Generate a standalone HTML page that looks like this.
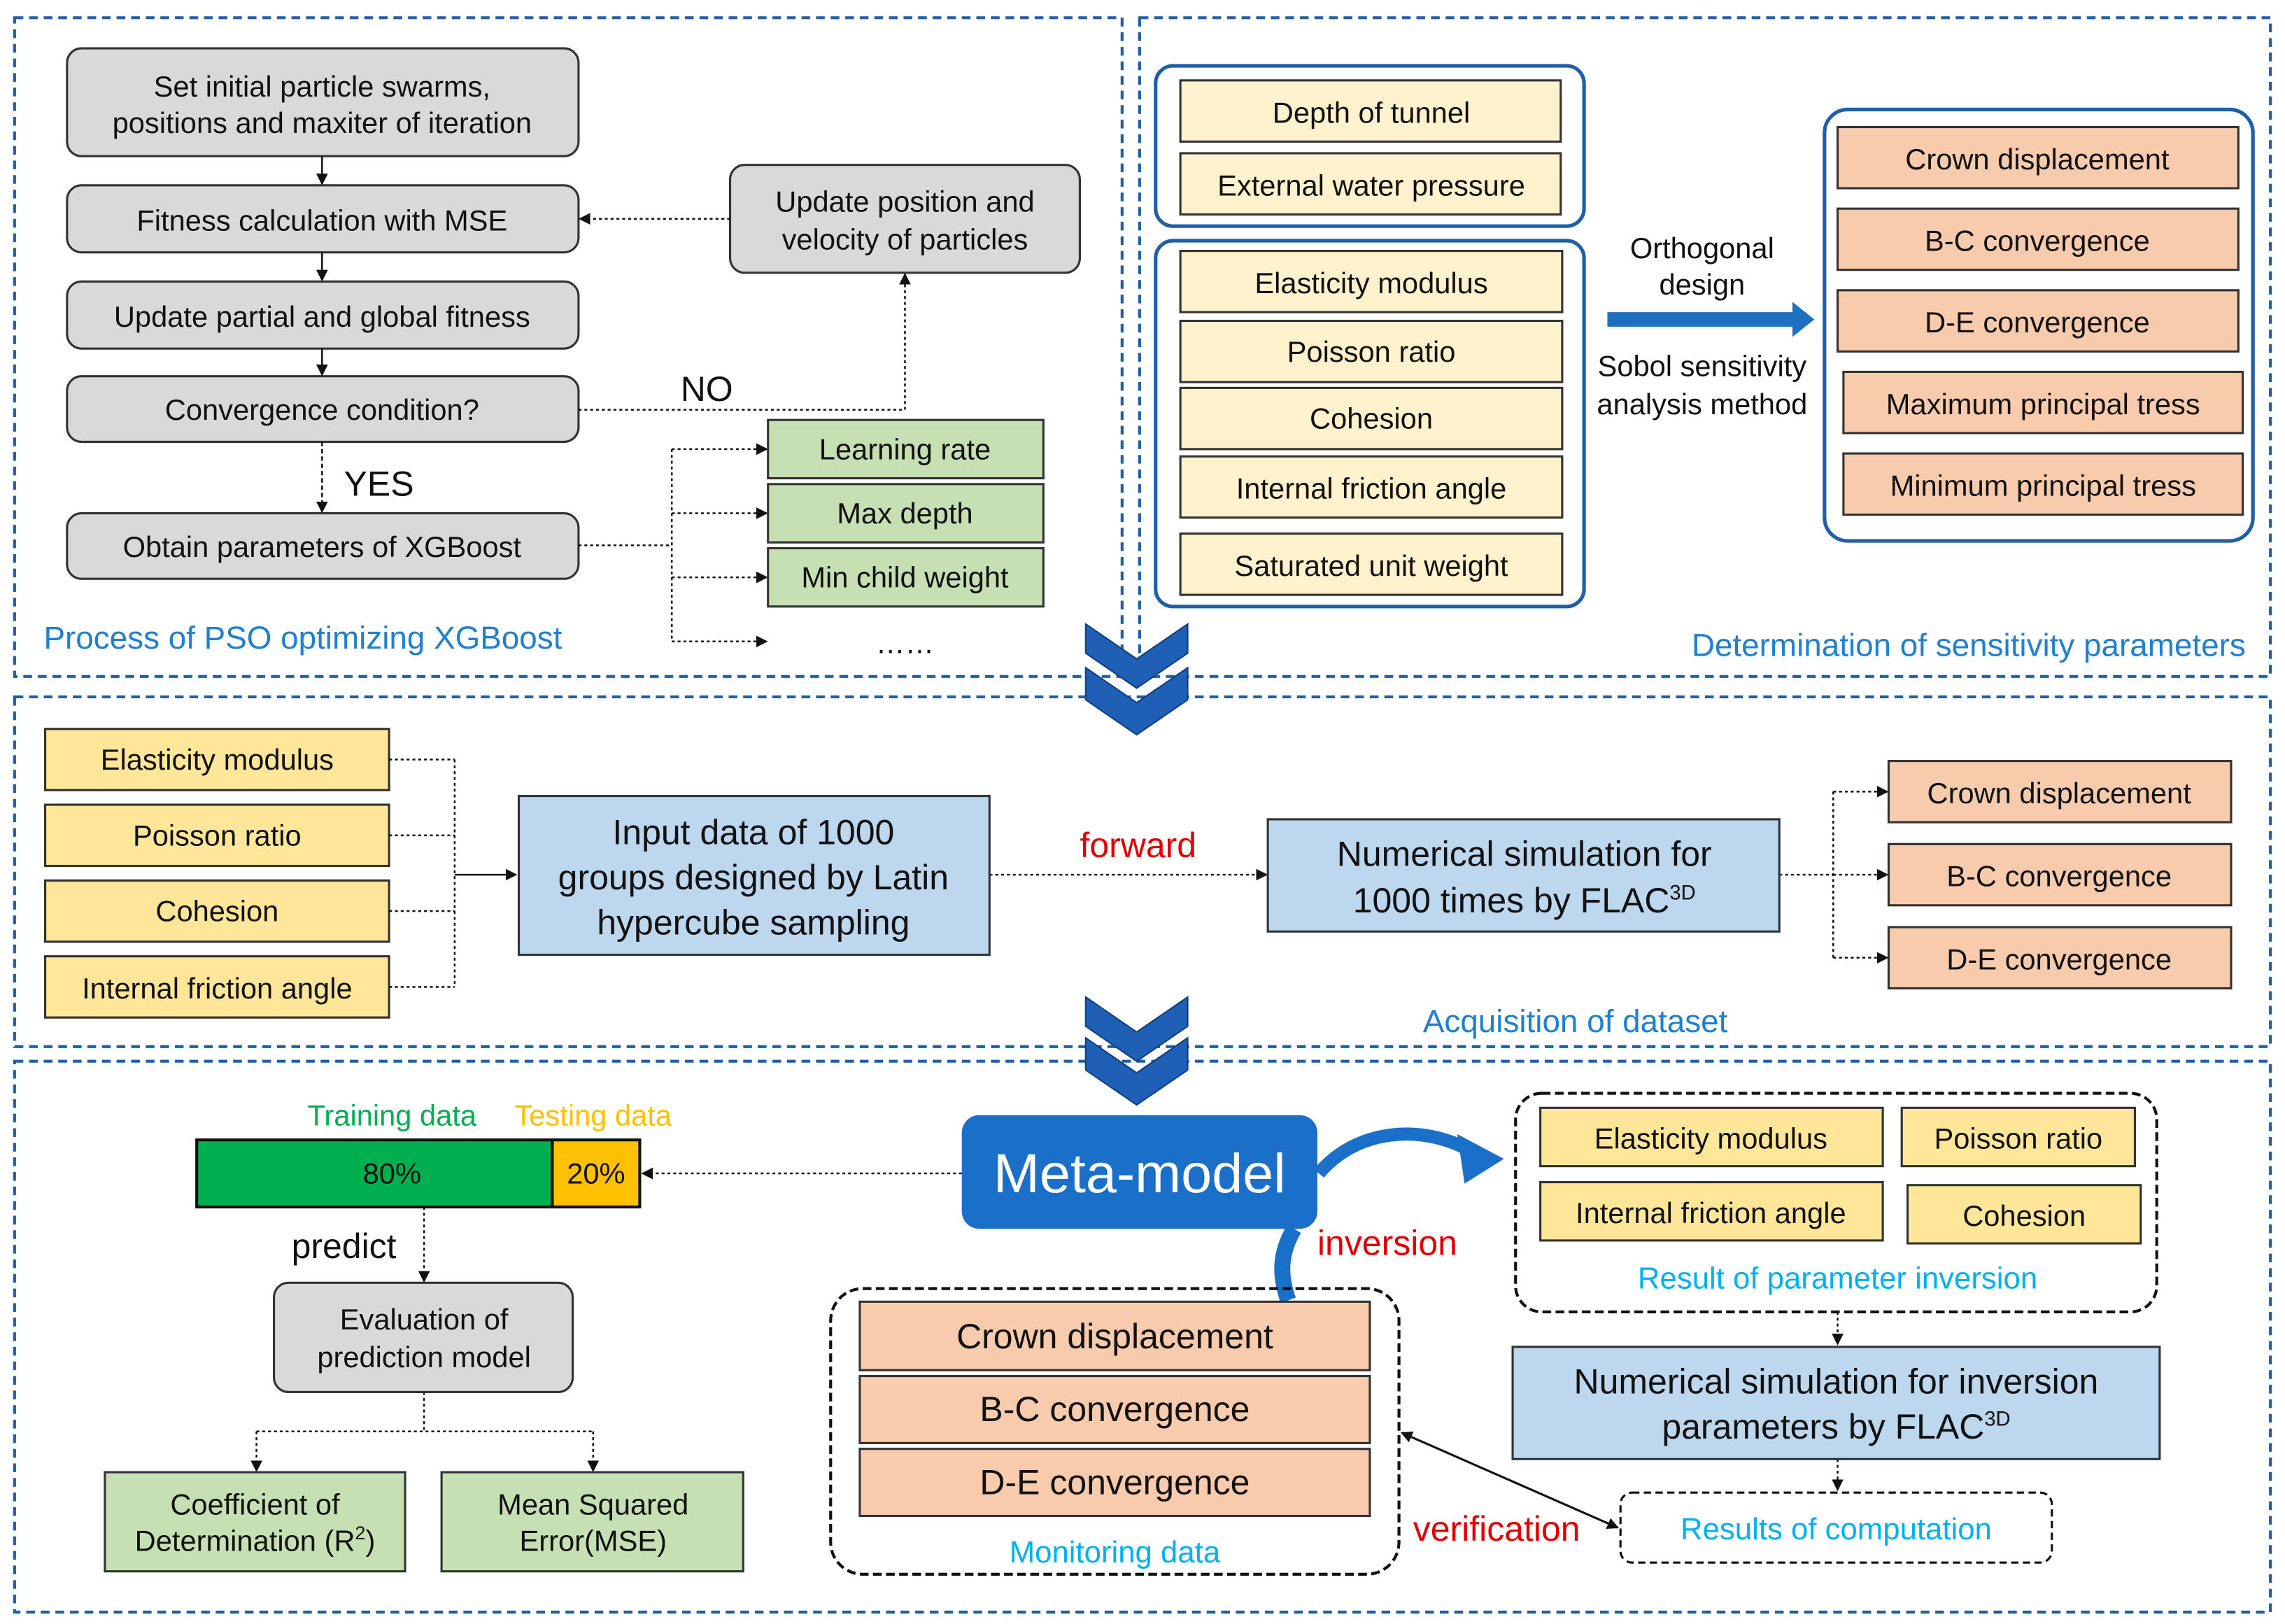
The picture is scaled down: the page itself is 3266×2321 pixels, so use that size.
<!DOCTYPE html>
<html><head><meta charset="utf-8"><style>
html,body{margin:0;padding:0;background:#fff}
svg{display:block}
text{font-family:"Liberation Sans",Arial,sans-serif;fill:#111}
</style></head><body>
<svg width="3266" height="2321" viewBox="0 0 1568 1114" xmlns="http://www.w3.org/2000/svg">
<defs>
<marker id="ah" markerWidth="8" markerHeight="8" refX="7" refY="4" orient="auto" markerUnits="userSpaceOnUse"><path d="M0,0 L8,4 L0,8 z" fill="#111"/></marker>
<marker id="ahs" markerWidth="8" markerHeight="8" refX="1" refY="4" orient="auto" markerUnits="userSpaceOnUse"><path d="M8,0 L0,4 L8,8 z" fill="#111"/></marker>
</defs>
<rect width="1568" height="1114" fill="#fff"/>
<g fill="none" stroke="#1f5fa8" stroke-width="2" stroke-dasharray="6,4">
<rect x="10" y="12" width="760" height="452"/>
<rect x="782" y="12" width="776" height="452"/>
<rect x="10" y="478" width="1548" height="240"/>
<rect x="10" y="728" width="1548" height="378"/>
</g>
<g stroke="#333" stroke-width="1.5" fill="#d9d9d9">
<rect x="46" y="33" width="351" height="74" rx="10"/>
<rect x="46" y="127" width="351" height="46" rx="10"/>
<rect x="46" y="193" width="351" height="46" rx="10"/>
<rect x="46" y="258" width="351" height="45" rx="10"/>
<rect x="46" y="352" width="351" height="45" rx="10"/>
<rect x="501" y="113" width="240" height="74" rx="10"/>
</g>
<g font-size="20" text-anchor="middle">
<text x="221" y="66">Set initial particle swarms,</text>
<text x="221" y="91">positions and maxiter of iteration</text>
<text x="221" y="158">Fitness calculation with MSE</text>
<text x="221" y="224">Update partial and global fitness</text>
<text x="221" y="288">Convergence condition?</text>
<text x="221" y="382">Obtain parameters of XGBoost</text>
<text x="621" y="145">Update position and</text>
<text x="621" y="171">velocity of particles</text>
</g>
<g stroke="#111" stroke-width="1.2" fill="none">
<line x1="221" y1="107" x2="221" y2="126" marker-end="url(#ah)"/>
<line x1="221" y1="173" x2="221" y2="192" marker-end="url(#ah)"/>
<line x1="221" y1="239" x2="221" y2="257" marker-end="url(#ah)"/>
<line x1="221" y1="303" x2="221" y2="351" stroke-dasharray="3,2" marker-end="url(#ah)"/>
<line x1="501" y1="150" x2="398" y2="150" stroke-dasharray="2,2" marker-end="url(#ah)"/>
<polyline points="397,281 621,281 621,188" stroke-dasharray="2,2" marker-end="url(#ah)"/>
<polyline points="397,374 461,374" stroke-dasharray="2,2"/>
<line x1="461" y1="308" x2="461" y2="440" stroke-dasharray="2,2"/>
<line x1="461" y1="308" x2="526" y2="308" stroke-dasharray="2,2" marker-end="url(#ah)"/>
<line x1="461" y1="352" x2="526" y2="352" stroke-dasharray="2,2" marker-end="url(#ah)"/>
<line x1="461" y1="396" x2="526" y2="396" stroke-dasharray="2,2" marker-end="url(#ah)"/>
<line x1="461" y1="440" x2="526" y2="440" stroke-dasharray="2,2" marker-end="url(#ah)"/>
</g>
<text x="485" y="275" font-size="24" text-anchor="middle">NO</text>
<text x="260" y="340" font-size="24" text-anchor="middle">YES</text>
<g stroke="#333" stroke-width="1.5" fill="#c6e0b4">
<rect x="527" y="288" width="189" height="40"/>
<rect x="527" y="332" width="189" height="40"/>
<rect x="527" y="376" width="189" height="40"/>
</g>
<g font-size="20" text-anchor="middle">
<text x="621" y="315">Learning rate</text>
<text x="621" y="359">Max depth</text>
<text x="621" y="403">Min child weight</text>
<text x="621" y="448">……</text>
</g>
<text x="30" y="445" font-size="22" style="fill:#1f7fd0">Process of PSO optimizing XGBoost</text>
<g fill="none" stroke="#1f5fa8" stroke-width="2.5">
<rect x="793" y="45" width="294" height="110" rx="12"/>
<rect x="793" y="165" width="294" height="251" rx="12"/>
<rect x="1252" y="75" width="294" height="296" rx="16"/>
</g>
<g stroke="#333" stroke-width="1.5" fill="#fff2cc">
<rect x="810" y="55" width="261" height="42"/>
<rect x="810" y="105" width="261" height="42"/>
<rect x="810" y="172" width="262" height="42"/>
<rect x="810" y="220" width="262" height="42"/>
<rect x="810" y="266" width="262" height="42"/>
<rect x="810" y="313" width="262" height="42"/>
<rect x="810" y="366" width="262" height="42"/>
</g>
<g font-size="20" text-anchor="middle">
<text x="941" y="84">Depth of tunnel</text>
<text x="941" y="134">External water pressure</text>
<text x="941" y="201">Elasticity modulus</text>
<text x="941" y="248">Poisson ratio</text>
<text x="941" y="294">Cohesion</text>
<text x="941" y="342">Internal friction angle</text>
<text x="941" y="395">Saturated unit weight</text>
<text x="1168" y="177">Orthogonal</text>
<text x="1168" y="202">design</text>
<text x="1168" y="258">Sobol sensitivity</text>
<text x="1168" y="284">analysis method</text>
</g>
<path d="M1103,214 L1230,214 L1230,207 L1245,219 L1230,231 L1230,224 L1103,224 z" fill="#1f6fc0"/>
<g stroke="#333" stroke-width="1.5" fill="#f8cbad">
<rect x="1261" y="87" width="275" height="42"/>
<rect x="1261" y="143" width="275" height="42"/>
<rect x="1261" y="199" width="275" height="42"/>
<rect x="1265" y="255" width="274" height="42"/>
<rect x="1265" y="311" width="274" height="42"/>
</g>
<g font-size="20" text-anchor="middle">
<text x="1398" y="116">Crown displacement</text>
<text x="1398" y="172">B-C convergence</text>
<text x="1398" y="228">D-E convergence</text>
<text x="1402" y="284">Maximum principal tress</text>
<text x="1402" y="340">Minimum principal tress</text>
</g>
<text x="1541" y="450" font-size="22" text-anchor="end" style="fill:#1f7fd0">Determination of sensitivity parameters</text>
<g fill="#1f5fb5" stroke="#0e3f80" stroke-width="1">
<path d="M745,428 L780,452 L815,428 L815,448 L780,472 L745,448 z"/>
<path d="M745,458 L780,482 L815,458 L815,480 L780,504 L745,480 z"/>
<path d="M745,684 L780,708 L815,684 L815,704 L780,728 L745,704 z"/>
<path d="M745,712 L780,736 L815,712 L815,734 L780,758 L745,734 z"/>
</g>
<g stroke="#333" stroke-width="1.5" fill="#ffe699">
<rect x="31" y="500" width="236" height="42"/>
<rect x="31" y="552" width="236" height="42"/>
<rect x="31" y="604" width="236" height="42"/>
<rect x="31" y="656" width="236" height="42"/>
</g>
<g font-size="20" text-anchor="middle">
<text x="149" y="528">Elasticity modulus</text>
<text x="149" y="580">Poisson ratio</text>
<text x="149" y="632">Cohesion</text>
<text x="149" y="685">Internal friction angle</text>
</g>
<g stroke="#111" stroke-width="1.2" fill="none" stroke-dasharray="2,2">
<line x1="267" y1="521" x2="312" y2="521"/>
<line x1="267" y1="573" x2="312" y2="573"/>
<line x1="267" y1="625" x2="312" y2="625"/>
<line x1="267" y1="677" x2="312" y2="677"/>
<line x1="312" y1="521" x2="312" y2="677"/>
<line x1="312" y1="600" x2="354" y2="600" stroke-dasharray="none" marker-end="url(#ah)"/>
<line x1="679" y1="600" x2="869" y2="600" marker-end="url(#ah)"/>
<line x1="1221" y1="600" x2="1258" y2="600"/>
<line x1="1258" y1="543" x2="1258" y2="657"/>
<line x1="1258" y1="543" x2="1295" y2="543" marker-end="url(#ah)"/>
<line x1="1258" y1="600" x2="1295" y2="600" marker-end="url(#ah)"/>
<line x1="1258" y1="657" x2="1295" y2="657" marker-end="url(#ah)"/>
</g>
<rect x="356" y="546" width="323" height="109" fill="#bdd7ee" stroke="#333" stroke-width="1.5"/>
<rect x="870" y="562" width="351" height="77" fill="#bdd7ee" stroke="#333" stroke-width="1.5"/>
<g font-size="24" text-anchor="middle">
<text x="517" y="579">Input data of 1000</text>
<text x="517" y="610">groups designed by Latin</text>
<text x="517" y="641">hypercube sampling</text>
<text x="1046" y="594">Numerical simulation for</text>
<text x="1046" y="626">1000 times by FLAC<tspan font-size="14" dy="-9">3D</tspan></text>
</g>
<text x="781" y="588" font-size="24" text-anchor="middle" style="fill:#e00000">forward</text>
<g stroke="#333" stroke-width="1.5" fill="#f8cbad">
<rect x="1296" y="522" width="235" height="42"/>
<rect x="1296" y="579" width="235" height="42"/>
<rect x="1296" y="636" width="235" height="42"/>
</g>
<g font-size="20" text-anchor="middle">
<text x="1413" y="551">Crown displacement</text>
<text x="1413" y="608">B-C convergence</text>
<text x="1413" y="665">D-E convergence</text>
</g>
<text x="1081" y="708" font-size="22" text-anchor="middle" style="fill:#1f7fd0">Acquisition of dataset</text>
<text x="269" y="772" font-size="20" text-anchor="middle" style="fill:#00b050">Training data</text>
<text x="407" y="772" font-size="20" text-anchor="middle" style="fill:#ffc000">Testing data</text>
<rect x="135" y="782" width="244" height="46" fill="#00b050" stroke="#111" stroke-width="2"/>
<rect x="379" y="782" width="60" height="46" fill="#ffc000" stroke="#111" stroke-width="2"/>
<text x="269" y="812" font-size="20" text-anchor="middle">80%</text>
<text x="409" y="812" font-size="20" text-anchor="middle">20%</text>
<rect x="660" y="765" width="244" height="78" rx="12" fill="#1a6fc9"/>
<text x="782" y="818" font-size="38" text-anchor="middle" style="fill:#fff">Meta-model</text>
<g stroke="#111" stroke-width="1.2" fill="none" stroke-dasharray="2,2">
<line x1="660" y1="805" x2="441" y2="805" marker-end="url(#ah)"/>
<line x1="291" y1="828" x2="291" y2="879" marker-end="url(#ah)"/>
<line x1="291" y1="955" x2="291" y2="982"/>
<line x1="176" y1="982" x2="407" y2="982"/>
<line x1="176" y1="982" x2="176" y2="1009" marker-end="url(#ah)"/>
<line x1="407" y1="982" x2="407" y2="1009" marker-end="url(#ah)"/>
</g>
<text x="236" y="863" font-size="24" text-anchor="middle">predict</text>
<rect x="188" y="880" width="205" height="75" rx="10" fill="#d9d9d9" stroke="#333" stroke-width="1.5"/>
<text x="291" y="912" font-size="20" text-anchor="middle">Evaluation of</text>
<text x="291" y="938" font-size="20" text-anchor="middle">prediction model</text>
<g stroke="#333" stroke-width="1.5" fill="#c6e0b4">
<rect x="72" y="1010" width="206" height="68"/>
<rect x="303" y="1010" width="207" height="68"/>
</g>
<g font-size="20" text-anchor="middle">
<text x="175" y="1039">Coefficient of</text>
<text x="175" y="1064">Determination (R<tspan font-size="13" dy="-8">2</tspan><tspan dy="8">)</tspan></text>
<text x="407" y="1039">Mean Squared</text>
<text x="407" y="1064">Error(MSE)</text>
</g>
<path d="M905,805 C930,775 975,770 1010,790" fill="none" stroke="#1a6fc9" stroke-width="9"/>
<path d="M1000,778 L1032,795 L1005,812 z" fill="#1a6fc9"/>
<path d="M888,843 C878,860 878,875 884,892" fill="none" stroke="#1a6fc9" stroke-width="11"/>
<text x="952" y="861" font-size="24" text-anchor="middle" style="fill:#e00000">inversion</text>
<rect x="1040" y="750" width="440" height="150" rx="18" fill="none" stroke="#111" stroke-width="2" stroke-dasharray="6,3"/>
<g stroke="#333" stroke-width="1.5" fill="#ffe699">
<rect x="1057" y="760" width="235" height="40"/>
<rect x="1305" y="760" width="160" height="40"/>
<rect x="1057" y="811" width="235" height="40"/>
<rect x="1309" y="813" width="160" height="40"/>
</g>
<g font-size="20" text-anchor="middle">
<text x="1174" y="788">Elasticity modulus</text>
<text x="1385" y="788">Poisson ratio</text>
<text x="1174" y="839">Internal friction angle</text>
<text x="1389" y="841">Cohesion</text>
</g>
<text x="1261" y="884" font-size="21" text-anchor="middle" style="fill:#00b0f0">Result of parameter inversion</text>
<g stroke="#111" stroke-width="1.2" fill="none" stroke-dasharray="2,2">
<line x1="1261" y1="900" x2="1261" y2="922" marker-end="url(#ah)"/>
<line x1="1261" y1="1001" x2="1261" y2="1022" marker-end="url(#ah)"/>
</g>
<rect x="1038" y="924" width="444" height="77" fill="#bdd7ee" stroke="#333" stroke-width="1.5"/>
<text x="1260" y="956" font-size="24" text-anchor="middle">Numerical simulation for inversion</text>
<text x="1260" y="987" font-size="24" text-anchor="middle">parameters by FLAC<tspan font-size="14" dy="-9">3D</tspan></text>
<rect x="1112" y="1024" width="296" height="48" rx="8" fill="none" stroke="#111" stroke-width="1.5" stroke-dasharray="5,3"/>
<text x="1260" y="1056" font-size="21" text-anchor="middle" style="fill:#00b0f0">Results of computation</text>
<line x1="962" y1="983" x2="1110" y2="1048" stroke="#111" stroke-width="1.5" marker-start="url(#ahs)" marker-end="url(#ah)"/>
<text x="1027" y="1057" font-size="24" text-anchor="middle" style="fill:#e00000">verification</text>
<rect x="570" y="884" width="390" height="196" rx="22" fill="none" stroke="#111" stroke-width="2" stroke-dasharray="6,3"/>
<g stroke="#333" stroke-width="1.5" fill="#f8cbad">
<rect x="590" y="893" width="350" height="47"/>
<rect x="590" y="944" width="350" height="46"/>
<rect x="590" y="994" width="350" height="46"/>
</g>
<g font-size="24" text-anchor="middle">
<text x="765" y="925">Crown displacement</text>
<text x="765" y="975">B-C convergence</text>
<text x="765" y="1025">D-E convergence</text>
</g>
<text x="765" y="1072" font-size="21" text-anchor="middle" style="fill:#00b0f0">Monitoring data</text>
</svg>
</body></html>
